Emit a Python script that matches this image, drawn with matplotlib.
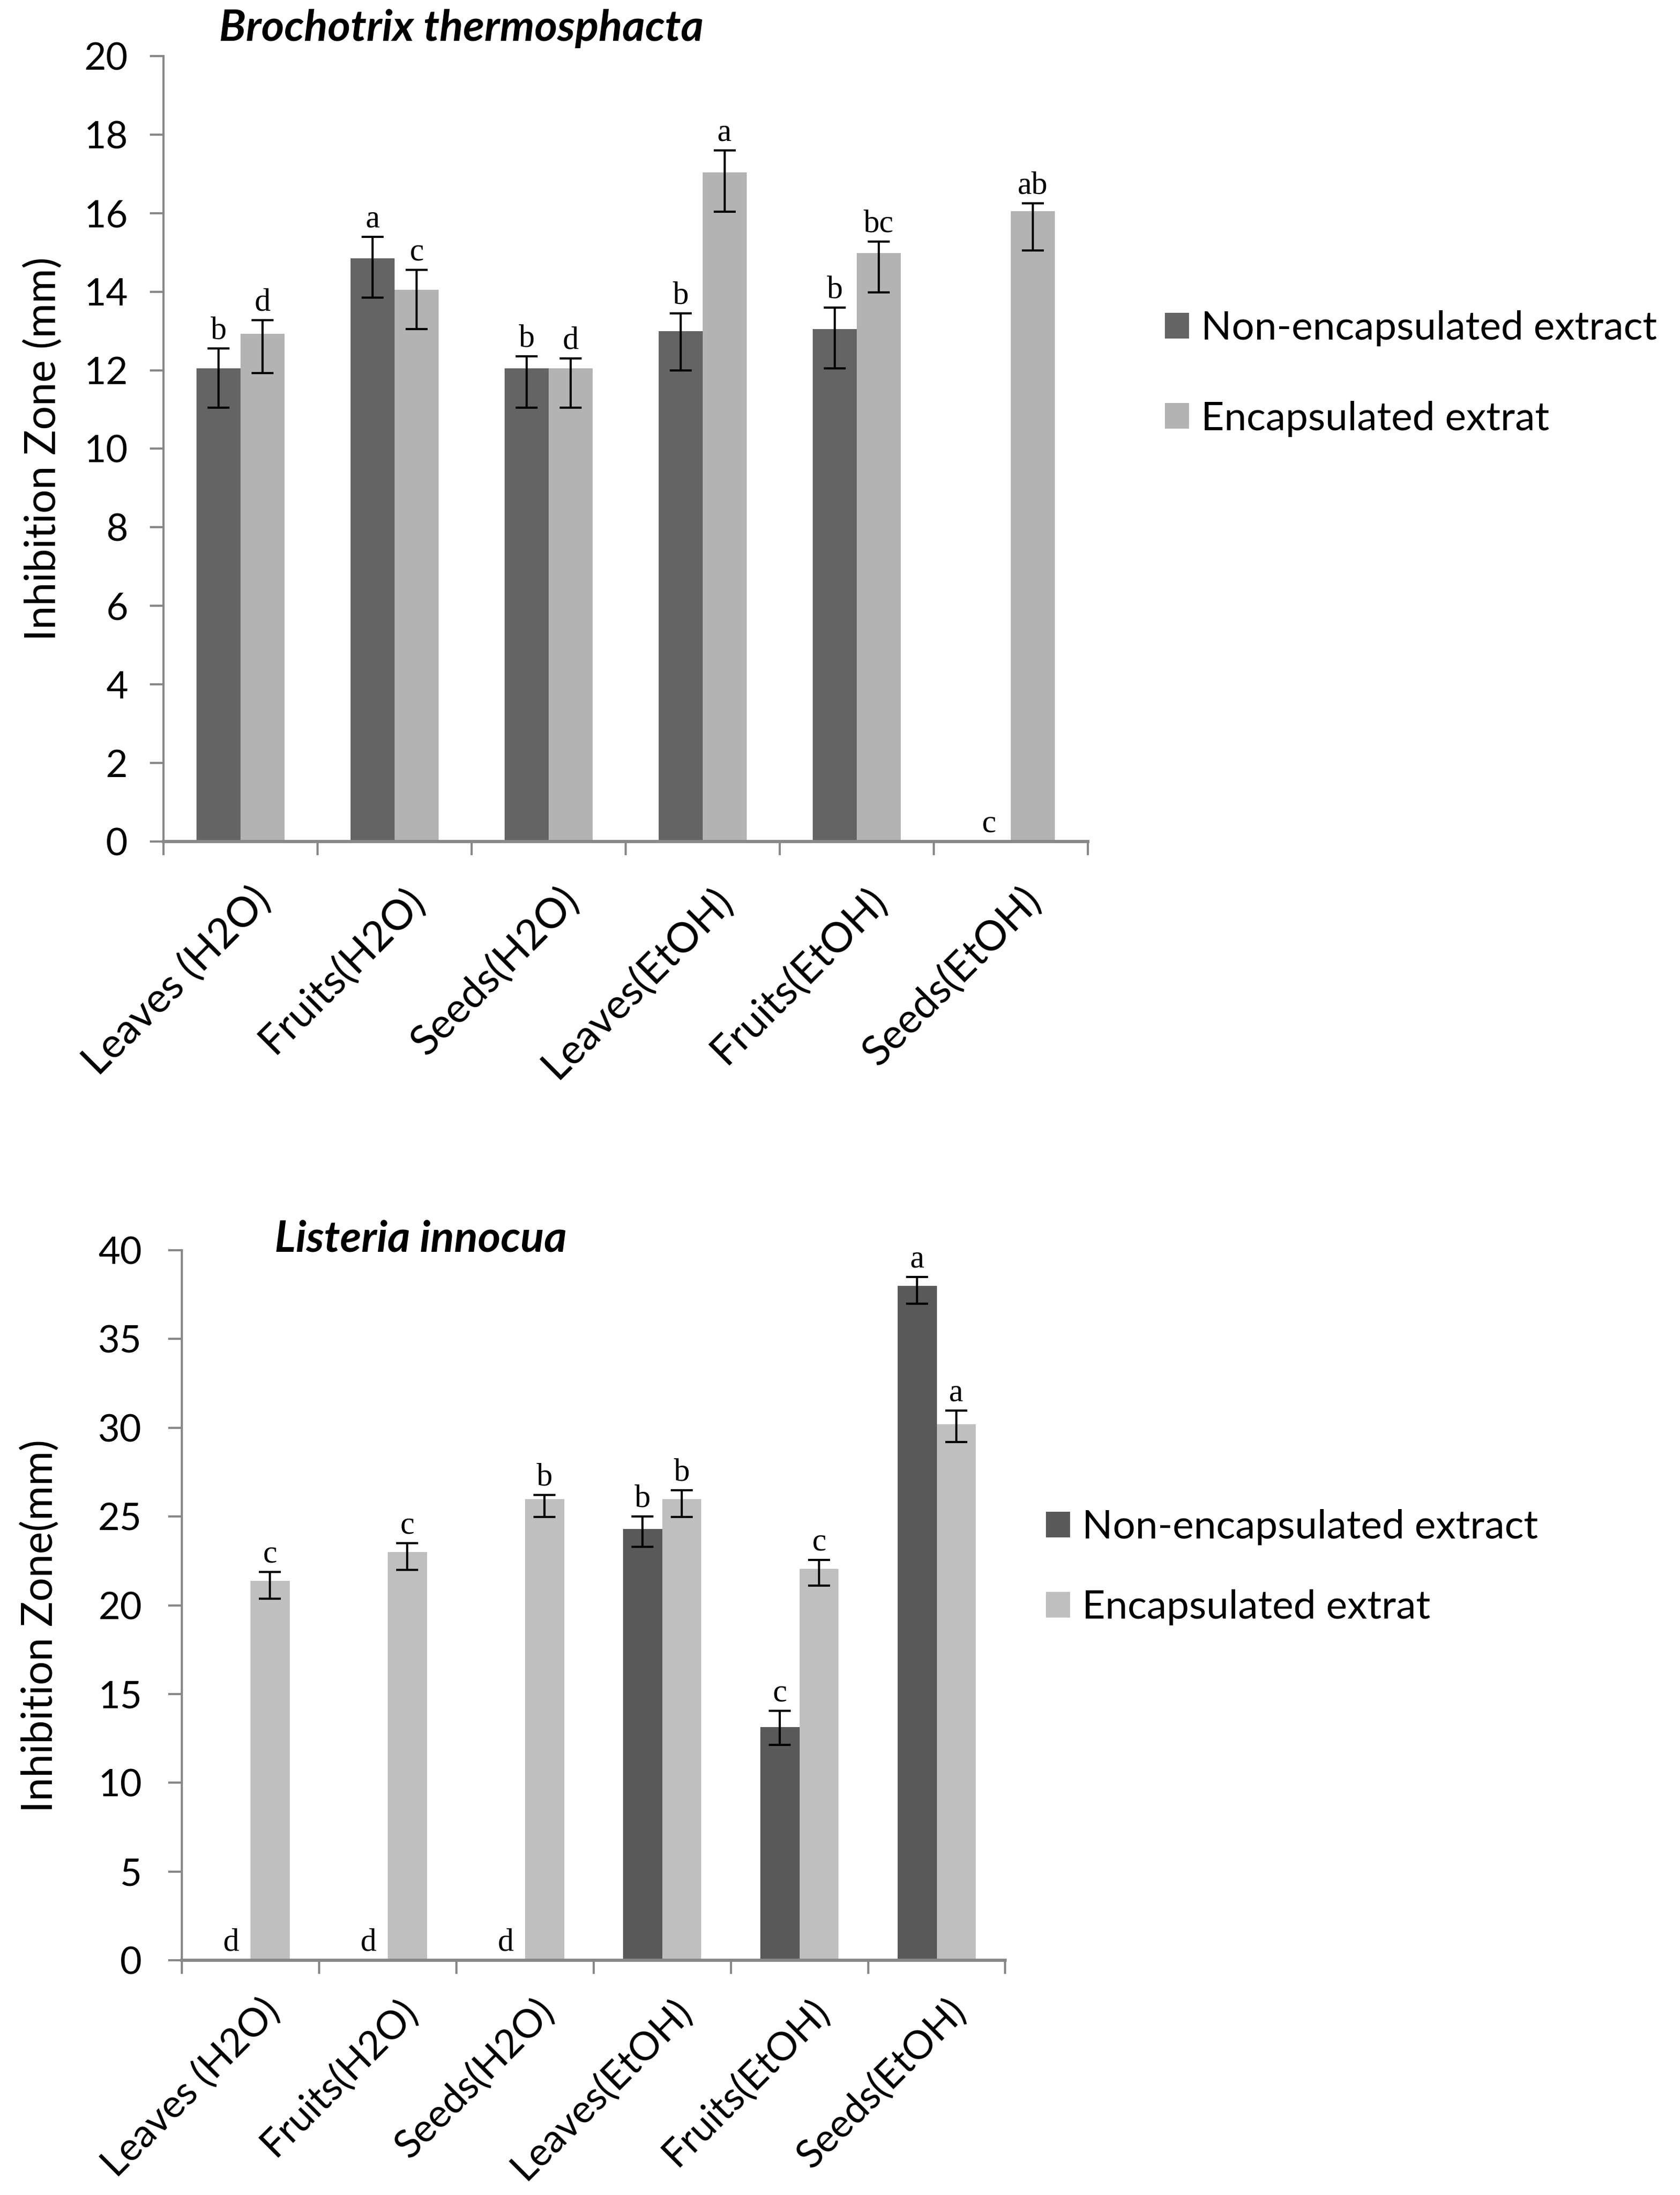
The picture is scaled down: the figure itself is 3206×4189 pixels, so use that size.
import matplotlib
matplotlib.use("Agg")
import matplotlib.pyplot as plt
import matplotlib.transforms as mtransforms
import numpy as np

plt.rcParams['font.family'] = ['Lato', 'DejaVu Sans']

categories = ["Leaves (H2O)", "Fruits(H2O)", "Seeds(H2O)",
              "Leaves(EtOH)", "Fruits(EtOH)", "Seeds(EtOH)"]
series_names = ["Non-encapsulated extract", "Encapsulated extrat"]

# Brochotrix thermosphacta
bt_non = [12.05, 14.85, 12.05, 13.0, 13.05, 0.0]
bt_non_lo = [1.0, 1.0, 1.0, 1.0, 1.0, 0.0]
bt_non_hi = [0.5, 0.55, 0.3, 0.45, 0.55, 0.0]
bt_enc = [12.93, 14.05, 12.05, 17.03, 14.98, 16.05]
bt_enc_lo = [1.0, 1.0, 1.0, 1.0, 1.0, 1.0]
bt_enc_hi = [0.35, 0.5, 0.25, 0.57, 0.3, 0.2]
bt_let_non = ["b", "a", "b", "b", "b", "c"]
bt_let_enc = ["d", "c", "d", "a", "bc", "ab"]

# Listeria innocua
li_non = [0.0, 0.0, 0.0, 24.3, 13.15, 38.0]
li_non_lo = [0.0, 0.0, 0.0, 1.0, 1.0, 1.0]
li_non_hi = [0.0, 0.0, 0.0, 0.7, 0.9, 0.5]
li_enc = [21.38, 23.0, 25.98, 25.98, 22.06, 30.2]
li_enc_lo = [1.0, 1.0, 1.0, 1.0, 0.96, 1.0]
li_enc_hi = [0.5, 0.5, 0.25, 0.5, 0.5, 0.77]
li_let_non = ["d", "d", "d", "b", "c", "a"]
li_let_enc = ["c", "c", "b", "b", "c", "a"]

AXCOL = "#888888"
FS = 26


def draw_panel(ax, non, non_lo, non_hi, enc, enc_lo, enc_hi, let_non, let_enc,
               colors, ymax, ystep, ypad, xfs, xpad):
    x = np.arange(len(categories))
    w = 0.285
    handles = []
    for off, vals, lo, hi, lets, col in ((-w / 2, non, non_lo, non_hi, let_non, colors[0]),
                                         (w / 2, enc, enc_lo, enc_hi, let_enc, colors[1])):
        vals = np.array(vals)
        lo = np.array(lo)
        hi = np.array(hi)
        b = ax.bar(x + off, vals, w, color=col, linewidth=0, zorder=2)
        handles.append(b)
        keep = vals > 0
        ax.errorbar((x + off)[keep], vals[keep], yerr=[lo[keep], hi[keep]], fmt='none',
                    ecolor='black', elinewidth=1.5, capsize=7.5, capthick=1.5, zorder=3)
        for xi, v, h, t in zip(x + off, vals, hi, lets):
            ax.annotate(t, (xi, v + h), xytext=(0, 2), textcoords='offset points',
                        ha='center', va='bottom', fontsize=22,
                        family='Liberation Serif', zorder=4)

    ax.set_xlim(-0.5, len(categories) - 0.5)
    ax.set_ylim(0, ymax)
    ax.set_yticks(np.arange(0, ymax + 0.1, ystep))
    ax.tick_params(axis='y', direction='out', length=9.5, width=1.5, color=AXCOL,
                   labelsize=FS, pad=ypad)
    ax.set_xticks(x)
    ax.set_xticks(np.arange(-0.5, len(categories)), minor=True)
    ax.tick_params(axis='x', which='minor', direction='out', length=9.5, width=1.5,
                   color=AXCOL)
    ax.tick_params(axis='x', which='major', length=0, pad=xpad)
    ax.set_xticklabels(categories, rotation=45, ha='right', va='top',
                       rotation_mode='anchor', fontsize=xfs)
    shift = mtransforms.ScaledTranslation(7 / 72, 0, ax.figure.dpi_scale_trans)
    for lab in ax.get_xticklabels():
        lab.set_transform(lab.get_transform() + shift)

    for s in ('top', 'right'):
        ax.spines[s].set_visible(False)
    ax.spines['left'].set_color(AXCOL)
    ax.spines['left'].set_linewidth(1.5)
    ax.spines['bottom'].set_color(AXCOL)
    ax.spines['bottom'].set_linewidth(2.2)
    return handles


fig = plt.figure(figsize=(16.03, 20.945), dpi=200)

ax1 = fig.add_axes([0.0973, 0.6166, 0.5502, 0.3579])
h1 = draw_panel(ax1, bt_non, bt_non_lo, bt_non_hi, bt_enc, bt_enc_lo, bt_enc_hi,
                bt_let_non, bt_let_enc, ("#646464", "#b3b3b3"), 20, 2, 15, 28.5, 27)
fig.text(0.2745, 0.9869, "Brochotrix thermosphacta", ha='center', va='center',
         fontsize=30, fontweight='bold', fontstyle='italic')
fig.text(0.0256, 0.7955, "Inhibition Zone (mm)", rotation=90, ha='center',
         va='center', fontsize=29)
ax1.legend(h1, series_names, loc='center left', bbox_to_anchor=(0.6934, 0.8298),
           bbox_transform=fig.transFigure, frameon=False, fontsize=27.5,
           handlelength=0.6, handleheight=0.6, handletextpad=0.3,
           labelspacing=1.35, borderpad=0, borderaxespad=0)

ax2 = fig.add_axes([0.1083, 0.1069, 0.4901, 0.3235])
h2 = draw_panel(ax2, li_non, li_non_lo, li_non_hi, li_enc, li_enc_lo, li_enc_hi,
                li_let_non, li_let_enc, ("#595959", "#bfbfbf"), 40, 5, 18, 27, 22)
fig.text(0.2505, 0.4354, "Listeria innocua", ha='center', va='center',
         fontsize=30, fontweight='bold', fontstyle='italic')
fig.text(0.0237, 0.2593, "Inhibition Zone(mm)", rotation=90, ha='center',
         va='center', fontsize=29)
ax2.legend(h2, series_names, loc='center left', bbox_to_anchor=(0.6226, 0.2859),
           bbox_transform=fig.transFigure, frameon=False, fontsize=27.5,
           handlelength=0.6, handleheight=0.6, handletextpad=0.3,
           labelspacing=1.1, borderpad=0, borderaxespad=0)

fig.savefig("out.png", dpi=200)
